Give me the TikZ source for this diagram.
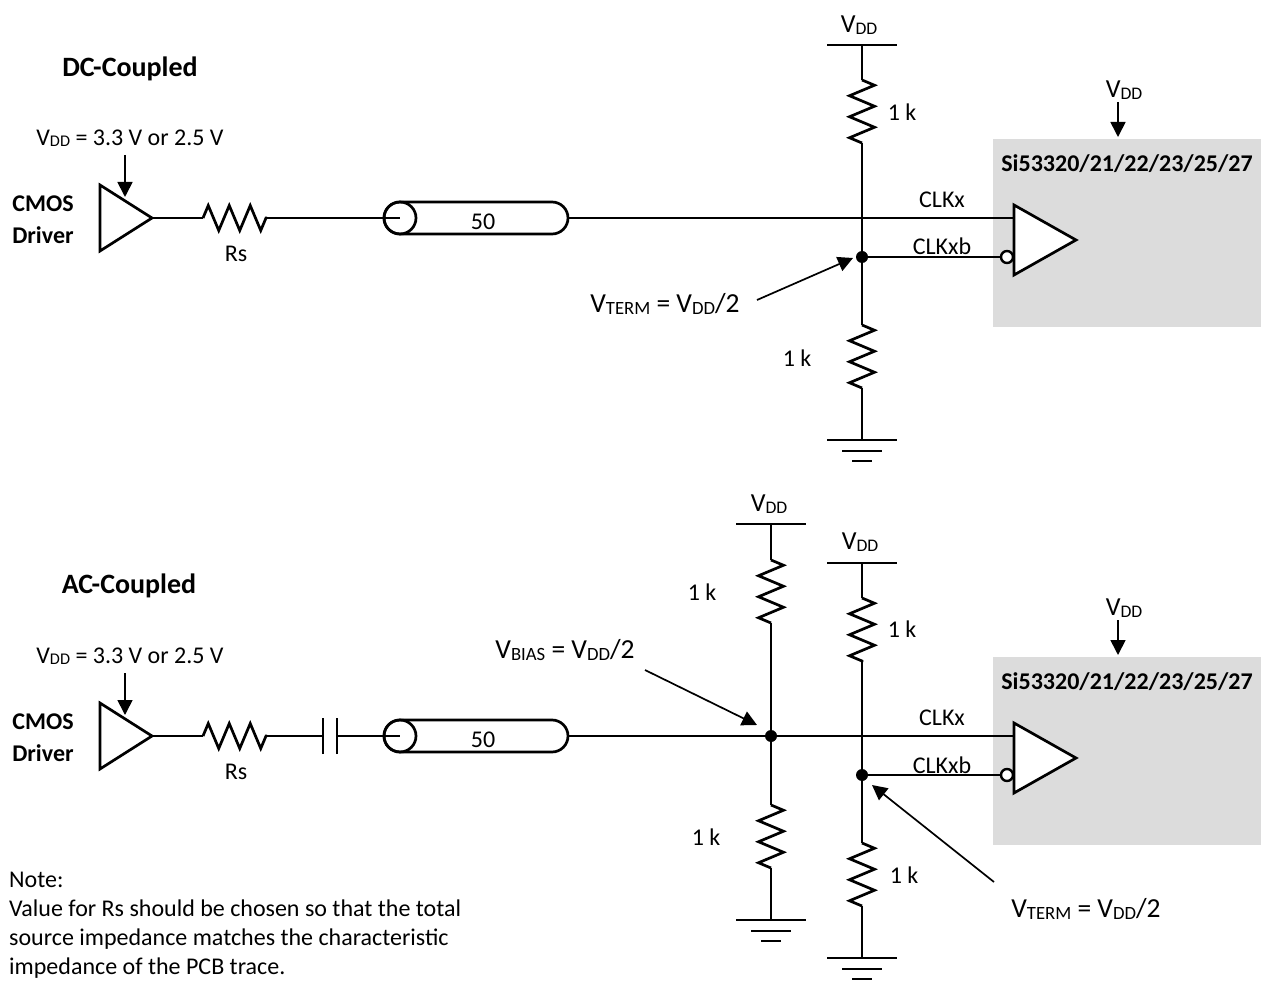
\documentclass[tikz,border=0pt]{standalone}
\usepackage{fontspec}
\setmainfont{Carlito}
\usetikzlibrary{arrows.meta,decorations.pathmorphing,shapes.geometric,shapes.misc}
\definecolor{chipgray}{HTML}{DCDCDC}
\newcommand{\vsub}[1]{V\raisebox{-.06em}{\scalebox{.68}{#1}}}
\tikzset{
  wire/.style={line width=2.7pt},
  zig/.style={line width=2.7pt,decorate,decoration={zigzag,segment length=21pt,amplitude=12.5pt}},
  pointer/.style={line width=1.7pt,-{Triangle[length=15pt,width=15pt]}},
  buffer/.style={draw,line width=2.7pt,fill=white,shape=isosceles triangle,isosceles triangle stretches,
     inner sep=0pt,outer sep=0pt,anchor=apex},
  coax/.style={draw,line width=2.7pt,shape=rounded rectangle,
     minimum width=184pt,minimum height=32pt,inner sep=0pt,outer sep=0pt},
  coaxend/.style={draw,line width=2.7pt,circle,minimum size=32pt,inner sep=0pt,outer sep=0pt},
  dot/.style={circle,fill=black,inner sep=0pt,minimum size=12pt},
  bubble/.style={circle,draw,line width=2.4pt,fill=white,inner sep=0pt,minimum size=12pt},
  chip/.style={fill=chipgray,draw=none,anchor=north west,minimum width=268pt,minimum height=188pt,inner sep=0pt},
  lbl/.style={font=\fontsize{24}{28}\selectfont,inner sep=0pt},
  railtxt/.style={font=\fontsize{26}{30}\selectfont,inner sep=0pt},
  big/.style={font=\fontsize{27.5}{32}\selectfont,inner sep=0pt},
  head/.style={font=\fontsize{28}{32}\selectfont\bfseries,inner sep=0pt},
  bold/.style={font=\fontsize{24}{32}\selectfont\bfseries,inner sep=0pt,align=center},
  rail/.pic={\draw[wire] (-35,0) -- (35,0);},
  gnd/.pic={\draw[wire] (-35,0) -- (35,0) (-20,11) -- (20,11) (-10,21) -- (10,21);}
}
\begin{document}
\begin{tikzpicture}[x=1pt,y=-1pt]
\useasboundingbox (0,0) rectangle (1261,981);

% DC-coupled
\node[head] (dctitle) at (130,69) {DC-Coupled};
\node[lbl] (dcsupply) at (130,138) {\vsub{DD} = 3.3 V or 2.5 V};
\node[bold] (dcname) at (43,220) {CMOS\\Driver};
\node[chip] (dcchip) at (993,139) {};
\node[bold] (dcpart) at (1127,164) {Si53320/21/22/23/25/27};
\coordinate (dcrsa) at (203,218);
\coordinate (dcrsb) at (267,218);
\coordinate (dcin) at (1014,218);
\node[railtxt] (dcvdda) at (859,25) {\vsub{DD}};
\coordinate (dcrail) at (862,45);
\coordinate (dcuptop) at (862,80);
\coordinate (dcupbot) at (862,143);
\coordinate (dcdntop) at (862,325);
\coordinate (dcdnbot) at (862,388);
\coordinate (dcgnd) at (862,440);
\node[dot] (dcterm) at (862,257) {};
\node[bubble] (dcbub) at (1007,257) {};
\node[coax] (dccoax) at (476,218) {};
\node[coaxend] (dcend) at (400,218) {};
\node[lbl] at (483,222) (dcz) {50};
\node[buffer,minimum width=66pt,minimum height=52pt] (dcdrv) at (152,218) {};

\draw[wire] (dcdrv.apex) -- (dcrsa);
\draw[zig] (dcrsa) -- (dcrsb);
\draw[wire] (dcrsb) -- (dcend.center);
\draw[wire] (dccoax.east) -- (dcin);
\pic at (dcrail) {rail};
\draw[wire] (dcrail) -- (dcuptop);
\draw[zig] (dcuptop) -- (dcupbot);
\draw[wire] (dcupbot) -- (dcterm) -- (dcdntop);
\draw[zig] (dcdntop) -- (dcdnbot);
\draw[wire] (dcdnbot) -- (dcgnd);
\pic at (dcgnd) {gnd};
\draw[wire] (dcterm) -- (dcbub);
\node[buffer,minimum width=70pt,minimum height=62pt] (dcrcv) at (1076,240) {};

\node[lbl] (dcrs) at (236,254) {Rs};
\node[lbl] (dcclk) at (942,200) {CLKx};
\node[lbl] (dcclkb) at (942,246) {CLKxb};
\node[lbl] (dcupr) at (902,112) {1 k};
\node[lbl] (dcdnr) at (797,358) {1 k};
\node[big] (dcvterm) at (665,304) {\vsub{TERM} = \vsub{DD}/2};
\node[railtxt] (dcvddb) at (1124,90) {\vsub{DD}};
\coordinate (dcvtail) at (125,155);
\coordinate (dcvhead) at (125,197);
\draw[pointer] (dcvtail) -- (dcvhead);
\coordinate (dcctail) at (1118,102);
\coordinate (dcchead) at (1118,137);
\draw[pointer] (dcctail) -- (dcchead);
\coordinate (dcttail) at (757,300);
\coordinate (dcthead) at (853,258);
\draw[pointer] (dcttail) -- (dcthead);

% AC-coupled
\node[head] (actitle) at (129,586) {AC-Coupled};
\node[lbl] (acsupply) at (130,656) {\vsub{DD} = 3.3 V or 2.5 V};
\node[bold] (acname) at (43,738) {CMOS\\Driver};
\node[chip] (acchip) at (993,657) {};
\node[bold] (acpart) at (1127,682) {Si53320/21/22/23/25/27};
\coordinate (acrsa) at (203,736);
\coordinate (acrsb) at (267,736);
\coordinate (accapa) at (323,736);
\coordinate (accapb) at (337,736);
\coordinate (acin) at (1014,736);
\node[railtxt] (acvdda) at (769,504) {\vsub{DD}};
\coordinate (acraila) at (771,524);
\coordinate (acatop) at (771,560);
\coordinate (acabot) at (771,623);
\coordinate (acbtop) at (771,805);
\coordinate (acbbot) at (771,868);
\coordinate (acgnda) at (771,920);
\node[railtxt] (acvddc) at (860,542) {\vsub{DD}};
\coordinate (acrailb) at (862,563);
\coordinate (acctop) at (862,598);
\coordinate (accbot) at (862,662);
\coordinate (acdtop) at (862,843);
\coordinate (acdbot) at (862,906);
\coordinate (acgndb) at (862,958);
\node[dot] (acbias) at (771,736) {};
\node[dot] (acterm) at (862,775) {};
\node[bubble] (acbub) at (1007,775) {};
\node[coax] (accoax) at (476,736) {};
\node[coaxend] (acend) at (400,736) {};
\node[lbl] at (483,740) (acz) {50};
\node[buffer,minimum width=66pt,minimum height=52pt] (acdrv) at (152,736) {};

\draw[wire] (acdrv.apex) -- (acrsa);
\draw[zig] (acrsa) -- (acrsb);
\draw[wire] (acrsb) -- (accapa);
\draw[wire] ([yshift=-18pt]accapa) -- ([yshift=18pt]accapa);
\draw[wire] ([yshift=-18pt]accapb) -- ([yshift=18pt]accapb);
\draw[wire] (accapb) -- (acend.center);
\draw[wire] (accoax.east) -- (acbias) -- (acin);
\pic at (acraila) {rail};
\draw[wire] (acraila) -- (acatop);
\draw[zig] (acatop) -- (acabot);
\draw[wire] (acabot) -- (acbias) -- (acbtop);
\draw[zig] (acbtop) -- (acbbot);
\draw[wire] (acbbot) -- (acgnda);
\pic at (acgnda) {gnd};
\pic at (acrailb) {rail};
\draw[wire] (acrailb) -- (acctop);
\draw[zig] (acctop) -- (accbot);
\draw[wire] (accbot) -- (acterm) -- (acdtop);
\draw[zig] (acdtop) -- (acdbot);
\draw[wire] (acdbot) -- (acgndb);
\pic at (acgndb) {gnd};
\draw[wire] (acterm) -- (acbub);
\node[buffer,minimum width=70pt,minimum height=62pt] (acrcv) at (1076,758) {};

\node[lbl] (acrs) at (236,772) {Rs};
\node[lbl] (acclk) at (942,718) {CLKx};
\node[lbl] (acclkb) at (942,765) {CLKxb};
\node[lbl] (acar) at (702,592) {1 k};
\node[lbl] (acbr) at (706,837) {1 k};
\node[lbl] (accr) at (902,629) {1 k};
\node[lbl] (acdr) at (904,875) {1 k};
\node[big] (acvbias) at (565,650) {\vsub{BIAS} = \vsub{DD}/2};
\node[big] (acvterm) at (1086,909) {\vsub{TERM} = \vsub{DD}/2};
\node[railtxt] (acvddb) at (1124,608) {\vsub{DD}};
\coordinate (acvtail) at (125,673);
\coordinate (acvhead) at (125,715);
\draw[pointer] (acvtail) -- (acvhead);
\coordinate (acctail) at (1118,620);
\coordinate (acchead) at (1118,655);
\draw[pointer] (acctail) -- (acchead);
\coordinate (acbtail) at (645,670);
\coordinate (acbhead) at (757,725);
\draw[pointer] (acbtail) -- (acbhead);
\coordinate (acttail) at (994,882);
\coordinate (acthead) at (872,785);
\draw[pointer] (acttail) -- (acthead);

\node[font=\fontsize{24}{29}\selectfont,align=left,anchor=north west,inner sep=0pt] (note) at (9,872)
  {Note:\\Value for Rs should be chosen so that the total\\source impedance matches the characteristic\\impedance of the PCB trace.};
\end{tikzpicture}
\end{document}
